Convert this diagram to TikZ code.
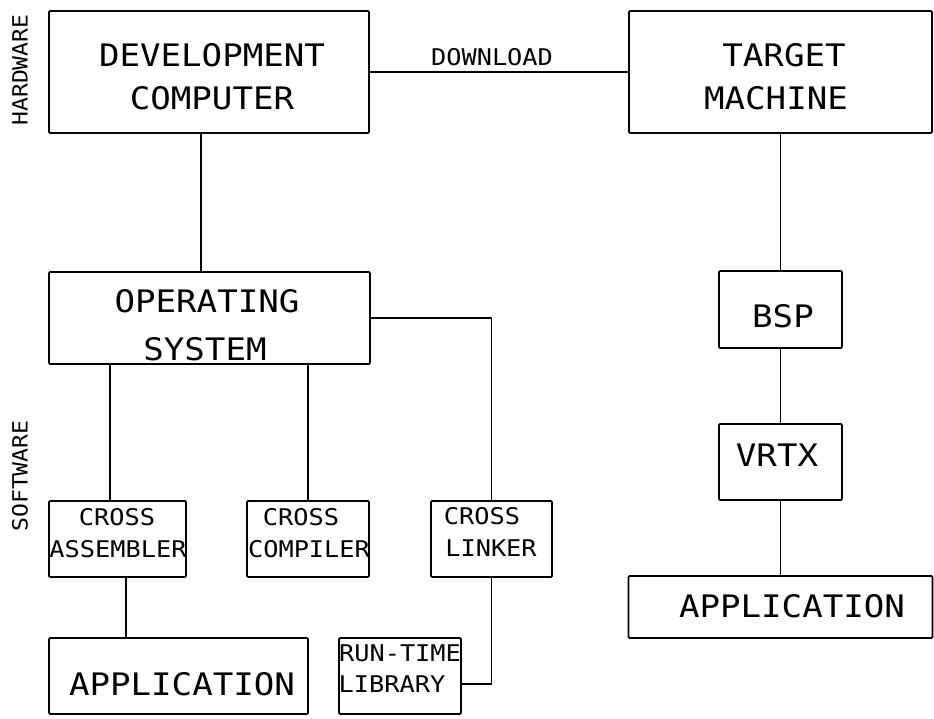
\documentclass[tikz,border=0pt]{standalone}
\usepackage{fontspec}
\newfontfamily\plot[FakeStretch=1.1]{DejaVu Sans Mono}
\begin{document}
\begin{tikzpicture}[x=1pt,y=-1pt,
  box/.style={draw, line width=1.8pt, rounded corners=1.2pt, inner sep=0pt, outer sep=0pt},
  wire/.style={line width=1.8pt},
  big/.style={font=\plot\fontsize{31}{31}\selectfont, inner sep=0pt},
  small/.style={font=\plot\fontsize{23}{23}\selectfont, inner sep=0pt},
  side/.style={font=\plot\fontsize{21}{21}\selectfont, inner sep=0pt, rotate=90}]
\useasboundingbox (0,0) rectangle (934,718);

% boxes
\node[box, minimum width=320pt, minimum height=122pt] (dev)  at (209,72) {};
\node[box, minimum width=303pt, minimum height=122pt] (tgt)  at (780.5,72) {};
\node[box, minimum width=321pt, minimum height=92pt]  (os)   at (209.5,318) {};
\node[box, minimum width=137pt, minimum height=76pt]  (asm)  at (117.5,539) {};
\node[box, minimum width=122pt, minimum height=76pt]  (cmp)  at (308,539) {};
\node[box, minimum width=121pt, minimum height=76pt]  (lnk)  at (491.5,539) {};
\node[box, minimum width=259pt, minimum height=76pt]  (appL) at (178.5,676) {};
\node[box, minimum width=122pt, minimum height=76pt]  (rtl)  at (400,676) {};
\node[box, minimum width=123pt, minimum height=77pt]  (bsp)  at (780.5,309.5) {};
\node[box, minimum width=123pt, minimum height=76pt]  (vrtx) at (780.5,462) {};
\node[box, minimum width=304pt, minimum height=62pt]  (appR) at (780.5,607) {};

% box texts
\node[big] (devA) at (212,55) {DEVELOPMENT};
\node[big] (devB) at (212,98) {COMPUTER};
\node[big] (tgtA) at (784,55) {TARGET};
\node[big] (tgtB) at (776,98) {MACHINE};
\node[big] (osA)  at (207,301) {OPERATING};
\node[big] (osB)  at (205,349) {SYSTEM};
\node[small] (asmA) at (117,517) {CROSS};
\node[small] (asmB) at (118,549) {ASSEMBLER};
\node[small] (cmpA) at (301,517) {CROSS};
\node[small] (cmpB) at (309,549) {COMPILER};
\node[small] (lnkA) at (482,516) {CROSS};
\node[small] (lnkB) at (491,548) {LINKER};
\node[big] (appLt) at (182,684) {APPLICATION};
\node[small] (rtlA) at (400,653) {RUN-TIME};
\node[small] (rtlB) at (392,684) {LIBRARY};
\node[big] (bspt) at (783,316) {BSP};
\node[big] (vrtxt) at (777,455) {VRTX};
\node[big] (appRt) at (792,606) {APPLICATION};
\node[small] (dl) at (492,57) {DOWNLOAD};

% side labels
\node[side] (hw) at (20,70) {HARDWARE};
\node[side] (sw) at (20,476) {SOFTWARE};

% connectors
\draw[wire] (dev.east) -- (tgt.west);
\draw[wire] ([xshift=-8pt]dev.south) -- ([xshift=-8pt]dev.south |- os.north);
\draw[wire] (tgt.south) -- (bsp.north);
\draw[wire] (bsp.south) -- (vrtx.north);
\draw[wire] (vrtx.south) -- (appR.north);
\draw[wire] ([xshift=-7.5pt]asm.north) -- ([xshift=-7.5pt]asm.north |- os.south);
\draw[wire] (cmp.north) -- (cmp.north |- os.south);
\draw[wire] (os.east) -| (lnk.north);
\draw[wire] ([xshift=8.5pt]asm.south) -- ([xshift=8.5pt]asm.south |- appL.north);
\draw[wire] (lnk.south) |- ([yshift=-8pt]rtl.east);
\end{tikzpicture}
\end{document}
